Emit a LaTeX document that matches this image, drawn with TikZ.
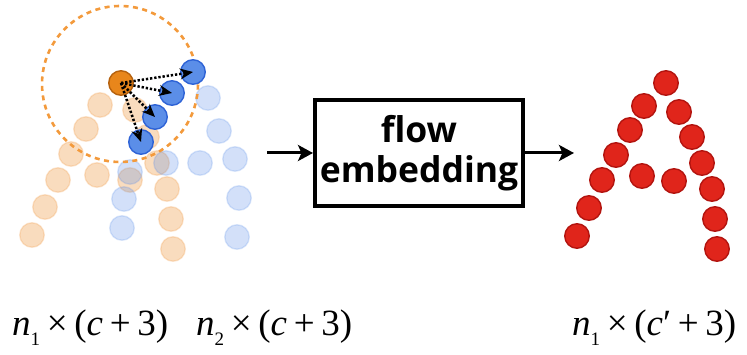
\documentclass[tikz,border=0pt]{standalone}
\usepackage{fontspec}
\setmainfont{Liberation Serif}
\newfontfamily\boxfont{Open Sans}
\usetikzlibrary{arrows.meta}
\definecolor{redfill}{HTML}{E0251B}
\definecolor{reddraw}{HTML}{B3140F}
\definecolor{peachbase}{HTML}{F0A050}
\definecolor{bluebase}{HTML}{5B8EE8}
\definecolor{bluedraw}{HTML}{2E63D6}
\definecolor{orangefill}{HTML}{E8861B}
\definecolor{orangedraw}{HTML}{B5610E}
\definecolor{dashorange}{HTML}{F39A3C}
\newcommand{\bsp}{\hspace{0.18em}}
\newcommand{\subidx}[1]{\raisebox{-0.25em}{\fontsize{19}{19}\selectfont #1}}
\tikzset{
  dotbase/.style={circle, minimum size=24.5pt, inner sep=0pt, line width=1.4pt},
  reddot/.style={dotbase, fill=redfill, draw=reddraw},
  peachdot/.style={dotbase, fill=peachbase, draw=peachbase, fill opacity=0.37, draw opacity=0.28},
  paledot/.style={dotbase, fill=bluebase, draw=bluebase, fill opacity=0.27, draw opacity=0.22},
  bluedot/.style={dotbase, fill=bluebase, draw=bluedraw},
  querydot/.style={dotbase, fill=orangefill, draw=orangedraw},
  ball/.style={draw=dashorange, line width=2.6pt, dash pattern=on 5pt off 4.5pt},
  dotarrow/.style={line width=2.5pt, dash pattern=on 2.3pt off 1.9pt, -{Stealth[length=13pt,width=11pt]}},
  bigarrow/.style={line width=3pt, -{Stealth[length=15pt,width=16pt,inset=3.5pt]}},
  febox/.style={draw, line width=4pt, minimum width=208pt, minimum height=106pt, align=center,
    font=\boxfont\bfseries\fontsize{35.5}{40}\selectfont},
  dimlabel/.style={anchor=base west, inner sep=0pt, font=\fontsize{37}{37}\selectfont}
}
\begin{document}
\begin{tikzpicture}[x=1pt,y=-1pt]
\useasboundingbox (0,0) rectangle (747,355);
% faded first cloud (peach A)
\foreach \x/\y [count=\i] in {100/105,86/129,71/154,58/180,45/207,32/235,
  135/110,147/137,157/163,167/189,171/219,173/249,97/175,130/180}
  \node[peachdot] (p\i) at (\x,\y) {};
% faded second cloud (pale blue)
\foreach \x/\y [count=\i] in {208/98,219/131,200/163,235/159,239/198,237/237,
  166/163,130/172,124/199,122/228}
  \node[paledot] (q\i) at (\x,\y) {};
% query ball
\node[circle, minimum size=156pt, inner sep=0pt, ball] (ballc) at (120,84) {};
% neighbours
\node[bluedot] (b1) at (193,72) {};
\node[bluedot] (b2) at (172,93) {};
\node[bluedot] (b3) at (155,117) {};
\node[bluedot] (b4) at (141,142) {};
\node[querydot] (o) at (121,83) {};
\foreach \i in {1,...,4}
  \draw[dotarrow] (o.center) -- (b\i.center);
% flow embedding box
\node[febox] (fe) at (419,153) {flow\\embedding};
\coordinate (in) at (267,153);
\coordinate (out) at (574,153);
\draw[bigarrow] (in) -- (fe.west);
\draw[bigarrow] (fe.east) -- (out);
% output cloud (red A)
\foreach \x/\y [count=\i] in {666/83,644/106,630/130,616/155,602/180,589/208,577/236,
  679/112,692/137,702/163,712/189,715/219,717/249,642/176,674/181}
  \node[reddot] (r\i) at (\x,\y) {};
% labels
\node[dimlabel] (l1) at (12,336) {\textit{n}\subidx{1}\bsp×\bsp(\textit{c}\bsp+\bsp3)};
\node[dimlabel] (l2) at (196,336) {\textit{n}\subidx{2}\bsp×\bsp(\textit{c}\bsp+\bsp3)};
\node[dimlabel] (l3) at (572,336) {\textit{n}\subidx{1}\bsp×\bsp(\textit{c}′\bsp+\bsp3)};
\end{tikzpicture}
\end{document}
